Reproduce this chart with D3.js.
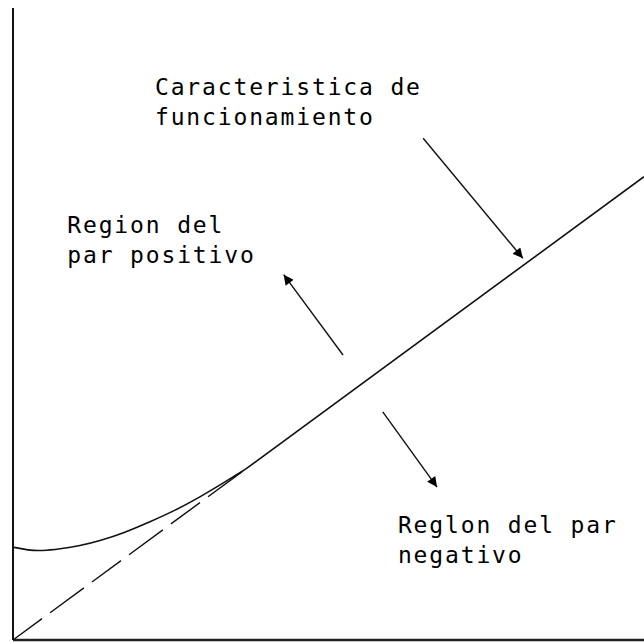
<!DOCTYPE html>
<html>
<head>
<meta charset="utf-8">
<script src="https://cdn.jsdelivr.net/npm/d3@7"></script>
<style>
  html, body { margin: 0; padding: 0; background: #fff; }
  svg { display: block; }
  text { font-family: "DejaVu Sans Mono", monospace; font-size: 23px; letter-spacing: 1.85px; fill: #000; }
</style>
</head>
<body>
<div id="chart"></div>
<script>
// torque/speed sketch, values in arbitrary units (0..100 on both axes)
const curveX = [0, 2.4, 4.6, 7.4, 10.6, 13.8, 17.7, 21.7, 25.7, 29.6, 33.6, 36.8];
const curveY = [14.7, 14.2, 14.1, 14.4, 14.9, 15.7, 17.0, 18.7, 20.5, 22.6, 25.0, 27.0];

const lineX = [36.8, 100];
const lineY = [27.0, 73.3];

const idealX = [0, 36.8];
const idealY = [0, 27.0];

// arrows: tail -> head
const arrowFromX = [65.0, 52.3, 58.6];
const arrowFromY = [79.4, 45.1, 36.1];
const arrowToX = [80.8, 42.9, 67.2];
const arrowToY = [60.4, 57.8, 24.2];

// annotation text, each block has two lines
const labelLines = [
  ["Caracteristica de", "funcionamiento"],
  ["Region del", "par positivo"],
  ["Reglon del par", "negativo"]
];
const labelX = [22.5, 8.6, 61.0];
const labelY = [86.2, 64.4, 16.9];

const width = 644, height = 642;

const x = d3.scaleLinear().domain([0, 100]).range([13, 644]);
const y = d3.scaleLinear().domain([0, 100]).range([640, 8]);

const svg = d3.select("#chart").append("svg")
  .attr("width", width)
  .attr("height", height);

svg.append("defs").append("marker")
  .attr("id", "head")
  .attr("viewBox", "0 0 10 10")
  .attr("refX", 10).attr("refY", 5)
  .attr("markerWidth", 11).attr("markerHeight", 10)
  .attr("markerUnits", "userSpaceOnUse")
  .attr("orient", "auto")
  .append("path")
  .attr("d", "M0,0L10,5L0,10Z")
  .attr("fill", "#000");

// axes: plain lines, no ticks
svg.append("line")
  .attr("x1", x(0)).attr("x2", x(0))
  .attr("y1", y(0)).attr("y2", y(100))
  .attr("stroke", "#111").attr("stroke-width", 2);
svg.append("line")
  .attr("x1", x(0)).attr("x2", x(100))
  .attr("y1", y(0)).attr("y2", y(0))
  .attr("stroke", "#222").attr("stroke-width", 2.5);

const line = d3.line().x(d => x(d[0])).y(d => y(d[1]));

// dashed ideal line from the origin
svg.append("path")
  .attr("d", line(d3.zip(idealX, idealY)))
  .attr("fill", "none")
  .attr("stroke", "#111")
  .attr("stroke-width", 1.4)
  .attr("stroke-dasharray", "36,10,42,10");

// real characteristic: curve then straight line
svg.append("path")
  .attr("d", d3.line().x(d => x(d[0])).y(d => y(d[1]))
    .curve(d3.curveBasis)(d3.zip(curveX, curveY)))
  .attr("fill", "none")
  .attr("stroke", "#111")
  .attr("stroke-width", 1.6);
svg.append("path")
  .attr("d", line(d3.zip(lineX, lineY)))
  .attr("fill", "none")
  .attr("stroke", "#111")
  .attr("stroke-width", 1.6);

// arrows
svg.selectAll(".arrow")
  .data(d3.range(arrowFromX.length))
  .enter().append("line")
  .attr("class", "arrow")
  .attr("x1", i => x(arrowFromX[i])).attr("y1", i => y(arrowFromY[i]))
  .attr("x2", i => x(arrowToX[i])).attr("y2", i => y(arrowToY[i]))
  .attr("stroke", "#111")
  .attr("stroke-width", 1.4)
  .attr("marker-end", "url(#head)");

// labels
labelLines.forEach((lines, i) => {
  const t = svg.append("text")
    .attr("x", x(labelX[i]))
    .attr("y", y(labelY[i]));
  lines.forEach((s, j) => {
    t.append("tspan")
      .attr("x", x(labelX[i]))
      .attr("dy", j === 0 ? 0 : 30)
      .text(s);
  });
});
</script>
</body>
</html>
